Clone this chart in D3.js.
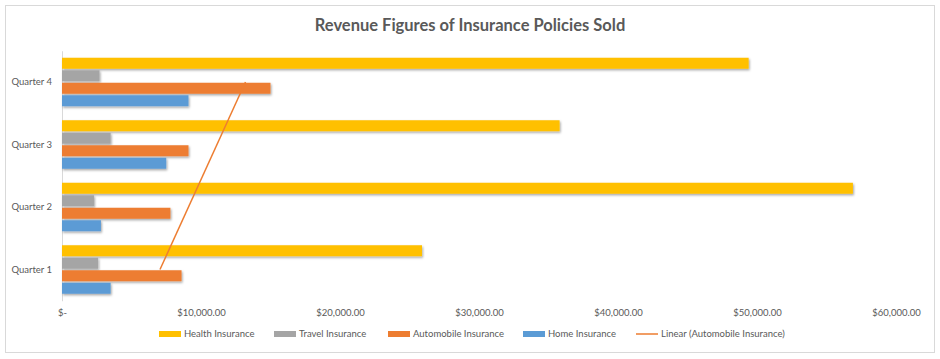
<!DOCTYPE html>
<html><head><meta charset="utf-8">
<script src="https://cdn.jsdelivr.net/npm/d3@7"></script>
<style>
html,body{margin:0;padding:0;background:#fff;}
svg text{font-family:Lato,"Noto Sans",sans-serif;}
</style></head>
<body><svg id="c" width="940" height="359"></svg>
<script>
const categories = ["Quarter 1","Quarter 2","Quarter 3","Quarter 4"];
const seriesNames = ["Health Insurance","Travel Insurance","Automobile Insurance","Home Insurance"];
const health = [25900, 56900, 35800, 49400];
const travel = [2600, 2300, 3500, 2700];
const automobile = [8600, 7800, 9100, 15000];
const home = [3500, 2800, 7500, 9100];
const xTicks = [0,10000,20000,30000,40000,50000,60000];
const colors = ["#FFC000","#A5A5A5","#ED7D31","#5B9BD5"];
const trendName = "Linear (Automobile Insurance)";
const title = "Revenue Figures of Insurance Policies Sold";

const values = [health, travel, automobile, home];
const svg = d3.select("#c");

// outer border
svg.append("rect").attr("x",5.5).attr("y",5.5).attr("width",929).attr("height",347)
  .attr("fill","#fff").attr("stroke","#d9d9d9").attr("stroke-width",1);

const defs = svg.append("defs");
const f = defs.append("filter").attr("id","sh").attr("x","-5%").attr("y","-50%").attr("width","115%").attr("height","220%");
f.append("feDropShadow").attr("dx",1).attr("dy",1.5).attr("stdDeviation",1).attr("flood-color","#000").attr("flood-opacity",0.35);

svg.append("text").attr("x",470).attr("y",31).attr("text-anchor","middle")
  .attr("font-size",16.5).attr("font-weight","bold").attr("fill","#595959").text(title);

const x = d3.scaleLinear().domain([0,60000]).range([62,896]);
const y = d3.scaleBand().domain(categories.slice().reverse()).range([50.75,300.75]).paddingInner(0.2).paddingOuter(0.1);
const ys = d3.scaleBand().domain(seriesNames).range([0,y.bandwidth()]);

// y axis
const ya = svg.append("g").attr("transform","translate(62,0)").call(d3.axisLeft(y).tickSize(0).tickPadding(10));
ya.select(".domain").attr("stroke","#d9d9d9");
ya.selectAll("text").attr("font-size",9.5).attr("fill","#595959").attr("font-family","Lato,'Noto Sans',sans-serif");

// x axis
const xa = svg.append("g").attr("transform","translate(0,306)")
  .call(d3.axisBottom(x).tickValues(xTicks).tickSize(0)
    .tickFormat(d => d===0 ? "$-" : "$" + d3.format(",.2f")(d)));
xa.select(".domain").remove();
xa.selectAll("text").attr("font-size",9.5).attr("fill","#595959").attr("font-family","Lato,'Noto Sans',sans-serif");

// bars
const barH = 11;
seriesNames.forEach((s,si) => {
  svg.append("g").selectAll("rect").data(categories.map((c,i)=>({c, v: values[si][i]})))
    .join("rect")
    .attr("x", x(0)).attr("y", d => y(d.c) + ys(s) + (ys.bandwidth()-barH)/2)
    .attr("width", d => x(d.v) - x(0)).attr("height", barH)
    .attr("fill", colors[si]).attr("filter","url(#sh)");
});

// linear trendline for automobile
const n = automobile.length;
const xs = d3.range(1,n+1);
const mx = d3.mean(xs), my = d3.mean(automobile);
const slope = d3.sum(xs.map((xi,i)=>(xi-mx)*(automobile[i]-my))) / d3.sum(xs.map(xi=>(xi-mx)*(xi-mx)));
const icpt = my - slope*mx;
const tpts = categories.map((c,i)=>[x(icpt + slope*(i+1)), y(c)+y.bandwidth()/2]);
svg.append("line").attr("x1",tpts[0][0]).attr("y1",tpts[0][1]).attr("x2",tpts[n-1][0]).attr("y2",tpts[n-1][1])
  .attr("stroke","#ED7D31").attr("stroke-width",1.5);

// legend
const legX = [159, 274, 388, 523];
const lg = svg.append("g");
seriesNames.forEach((s,i)=>{
  lg.append("rect").attr("x",legX[i]).attr("y",331).attr("width",22).attr("height",6).attr("fill",colors[i]);
  lg.append("text").attr("x",legX[i]+25).attr("y",334).attr("dy","0.35em").attr("font-size",9.5).attr("fill","#595959").text(s);
});
lg.append("line").attr("x1",636).attr("x2",658).attr("y1",334).attr("y2",334).attr("stroke","#ED7D31").attr("stroke-width",1.5);
lg.append("text").attr("x",661).attr("y",334).attr("dy","0.35em").attr("font-size",9.5).attr("fill","#595959").text(trendName);
</script></body></html>
